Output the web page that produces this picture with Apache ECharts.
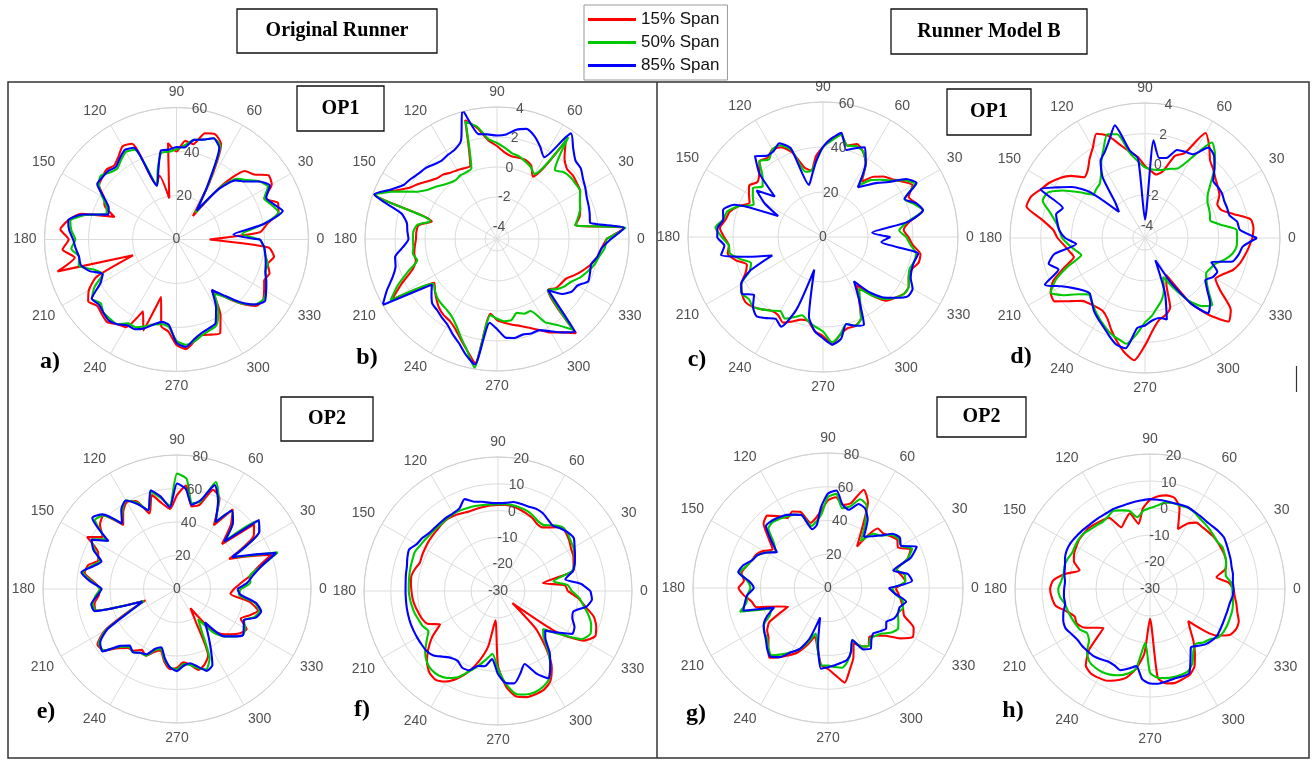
<!DOCTYPE html>
<html>
<head>
<meta charset="utf-8">
<script src="https://cdn.jsdelivr.net/npm/echarts@6/dist/echarts.min.js"></script>
<style>
  html, body { margin: 0; padding: 0; background: #fff; }
  #chart { width: 1312px; height: 761px; }
</style>
</head>
<body>
<div id="chart"></div>
<script>
// Polar angle grid (degrees) shared by every trace
const ANGLES = [
  0, 5, 10, 15, 20, 25, 30, 35, 40, 45, 50, 55,
  60, 65, 70, 75, 80, 85, 90, 95, 100, 105, 110, 115,
  120, 125, 130, 135, 140, 145, 150, 155, 160, 165, 170, 175,
  180, 185, 190, 195, 200, 205, 210, 215, 220, 225, 230, 235,
  240, 245, 250, 255, 260, 265, 270, 275, 280, 285, 290, 295,
  300, 305, 310, 315, 320, 325, 330, 335, 340, 345, 350, 355
];

const SPAN_NAMES = ['15% Span', '50% Span', '85% Span'];

// a) Original Runner, OP1 (0..60)
const aRed = [
  15, 38, 42, 48, 49, 44, 50, 51, 46, 44, 32, 13,
  30, 48, 51, 50, 44, 45, 40, 44, 19, 30, 27, 48,
  49, 46, 44, 45, 44, 43, 38, 36, 30, 45, 50, 53,
  49, 52, 47, 56, 21, 40, 46, 49, 47, 48, 49, 47,
  46, 36, 44, 27, 40, 42, 48, 50, 47, 45, 46, 47,
  40, 28, 34, 41, 47, 48, 46, 44, 45, 43, 45, 42
];
const aGreen = [
  38, 30, 40, 48, 46, 44, 48, 46, 42, 39, 31, 15,
  29, 47, 49, 47, 46, 43, 41, 40, 40, 33, 26, 45,
  46, 44, 42, 43, 45, 43, 39, 35, 34, 43, 49, 48,
  46, 48, 45, 46, 40, 37, 43, 47, 45, 47, 47, 47,
  44, 44, 42, 40, 39, 40, 46, 48, 47, 45, 44, 43,
  38, 30, 34, 41, 46, 48, 47, 45, 43, 43, 41, 40
];
const aBlue = [
  38, 26, 40, 50, 47, 45, 49, 46, 41, 38, 30, 16,
  28, 46, 49, 47, 46, 42, 42, 41, 41, 32, 26, 46,
  47, 45, 43, 44, 44, 44, 38, 34, 33, 44, 50, 49,
  47, 46, 45, 45, 42, 37, 40, 47, 46, 47, 48, 47,
  45, 45, 43, 40, 38, 39, 47, 49, 46, 44, 43, 42,
  36, 28, 33, 40, 46, 49, 47, 45, 43, 42, 41, 40
];

// b) Original Runner, OP1 (-4..4)
const bRed = [
  2.5, 3.7, 0.5, 0.9, 1.1, 1.3, 1.6, 1.7, 1.8, 1.8, 2.2, 3.2,
  0.0, 0.6, 0.8, 0.8, 0.8, 1.0, 1.4, 1.8, 2.7, 3.4, 0.4, 0.4,
  0.5, 0.6, 0.8, 0.9, 1.2, 1.6, 2.0, 2.8, 3.9, -0.3, 0.5, 0.6,
  0.6, 0.7, 0.8, 0.8, 1.2, 2.2, 3.3, 0.3, 0.6, 0.9, 1.2, 1.4,
  1.5, 1.8, 2.3, 2.9, 3.6, 0.2, 0.6, 0.8, 1.0, 1.2, 1.5, 1.9,
  2.4, 2.8, 3.4, 0.0, 0.3, 0.4, 0.5, 0.9, 1.3, 1.7, 2.0, 2.2
];
const bGreen = [
  2.5, 3.8, 0.5, 0.8, 1.1, 1.3, 1.6, 1.6, 1.6, 1.5, 1.2, 3.5,
  0.2, 0.5, 0.7, 0.9, 1.0, 1.3, 1.6, 1.9, 2.8, 3.3, 0.2, 0.1,
  0.1, 0.0, 0.1, 0.3, 0.6, 0.9, 1.5, 2.7, 3.8, -0.2, 0.6, 0.8,
  0.8, 0.8, 0.9, 0.7, 1.5, 2.5, 3.4, 0.4, 0.6, 0.8, 0.9, 1.0,
  1.2, 1.6, 2.2, 2.9, 3.9, 0.3, 0.5, 0.7, 0.7, 0.3, 0.5, 0.5,
  1.6, 2.2, 3.1, 0.0, 0.4, 0.7, 0.9, 1.3, 1.6, 1.9, 2.1, 2.4
];
const bBlue = [
  2.8, 3.7, 1.5, 1.6, 1.7, 1.8, 2.0, 2.2, 2.5, 2.6, 3.1, 3.8,
  1.5, 2.0, 2.5, 2.8, 2.6, 2.2, 2.1, 2.2, 2.3, 4.1, 2.2, 1.8,
  1.7, 1.6, 1.7, 1.9, 2.0, 2.2, 2.4, 3.0, 3.9, 1.8, 1.3, 1.2,
  1.1, 1.5, 2.1, 2.2, 2.6, 3.3, 4.0, 0.5, 0.9, 1.3, 1.4, 1.6,
  1.8, 2.2, 2.6, 3.2, 3.7, 0.8, 1.2, 1.8, 1.9, 1.8, 1.9, 1.9,
  2.3, 2.8, 3.3, 0.0, 0.9, 1.3, 1.4, 1.9, 1.8, 1.7, 2.0, 2.2
];

// c) Runner Model B, OP1 (0..60)
const cRed = [
  38, 36, 39, 46, 44, 42, 46, 43, 40, 38, 35, 30,
  38, 42, 44, 42, 46, 44, 40, 36, 30, 32, 40, 44,
  45, 43, 44, 40, 38, 40, 38, 36, 40, 43, 44, 46,
  44, 42, 43, 40, 36, 38, 42, 44, 45, 44, 42, 40,
  40, 42, 40, 38, 38, 42, 44, 48, 44, 42, 42, 40,
  32, 26, 34, 40, 42, 44, 44, 42, 42, 44, 44, 40
];
const cGreen = [
  37, 34, 38, 46, 43, 40, 47, 44, 39, 36, 33, 28,
  38, 42, 43, 42, 46, 43, 40, 34, 30, 30, 41, 45,
  45, 42, 44, 38, 35, 38, 36, 34, 40, 44, 45, 48,
  45, 42, 42, 38, 34, 36, 42, 44, 43, 44, 42, 40,
  38, 40, 38, 36, 38, 40, 42, 47, 44, 40, 42, 40,
  33, 28, 34, 39, 42, 44, 44, 42, 41, 42, 42, 39
];
const cBlue = [
  30, 22, 38, 46, 44, 40, 48, 45, 38, 34, 30, 27,
  38, 44, 42, 40, 47, 44, 40, 34, 28, 24, 42, 46,
  44, 44, 47, 40, 28, 36, 30, 22, 42, 46, 45, 47,
  47, 44, 46, 34, 24, 36, 42, 44, 40, 44, 46, 44,
  42, 44, 34, 15, 36, 42, 45, 48, 46, 40, 42, 43,
  32, 24, 32, 38, 42, 46, 46, 43, 42, 42, 43, 26
];

// d) Runner Model B, OP1 (-4..4)
const dRed = [
  2.2, 2.3, 2.2, 1.2, 0.5, 0.4, 0.8, 1.0, 1.2, 1.5, 1.8, 2.5,
  3.1, 1.3, 0.9, -0.3, -0.6, -0.4, -0.1, 0.5, 0.9, 1.5, 2.3, 2.7,
  2.0, 1.5, 1.0, 0.8, 1.5, 2.0, 2.4, 2.7, 3.1, 3.2, 2.0, 1.2,
  0.9, 0.5, 0.2, 0.0, 0.8, 1.8, 2.3, 2.4, 1.6, 1.0, 0.8, 0.7,
  0.7, 1.0, 1.6, 2.2, 2.8, 3.2, 2.2, 1.2, 0.6, 0.4, 0.0, -1.5,
  -2.0, 0.4, 1.8, 2.9, 2.5, 1.2, 0.5, 0.8, 1.3, 1.6, 1.8, 2.0
];
const dGreen = [
  1.2, 1.2, 0.2, -0.4, -0.3, -0.2, -0.1, 0.2, 0.8, 1.6, 2.3, 2.8,
  1.2, 0.2, 0.0, -0.2, -0.3, -0.3, -0.2, 0.2, 0.8, 2.2, 2.4, 1.6,
  0.9, 0.2, -0.2, -0.3, -0.4, 0.4, 1.4, 2.2, 2.3, 1.6, 1.1, 0.8,
  0.6, 0.2, -0.2, -0.5, 0.5, 1.6, 2.3, 1.7, 0.9, 0.4, 0.6, 0.9,
  1.2, 1.5, 1.8, 2.0, 2.2, 1.5, 0.7, 0.3, -0.2, -0.6, -1.2, -2.0,
  -1.0, 0.2, 1.0, 1.4, 0.6, 0.1, -0.2, -0.1, 0.1, 0.6, 1.0, 1.2
];
const dBlue = [
  2.5, 1.4, 1.3, 0.9, 0.9, 0.9, 1.0, 1.0, 1.0, 1.6, 2.2, 2.4,
  1.5, 1.4, 1.3, 0.6, 0.5, 1.6, -3.6, 0.4, 1.0, 2.8, 2.0, 1.4,
  1.0, 0.0, -1.8, -2.4, -0.2, 1.0, 1.8, 2.7, 0.9, 1.2, 1.0, 0.8,
  0.4, -0.3, 1.2, 1.7, 1.2, 2.4, 1.5, 0.9, 0.5, 0.3, 0.6, 1.0,
  1.3, 1.6, 2.0, 2.4, 2.5, 1.1, 0.9, 0.6, 0.5, 0.7, -1.0, -3.2,
  -1.5, 0.4, 1.6, 1.2, 0.5, 0.0, 0.3, 0.4, -0.2, 1.1, 1.4, 1.6
];

// e) Original Runner, OP2 (0..80)
const eRed = [
  34, 38, 44, 50, 60, 46, 36, 56, 60, 38, 50, 58,
  44, 60, 63, 52, 50, 62, 56, 48, 52, 58, 48, 58,
  60, 56, 50, 62, 60, 54, 62, 52, 50, 55, 56, 50,
  46, 47, 50, 50, 20, 32, 50, 58, 57, 50, 46, 45,
  42, 44, 40, 38, 44, 48, 47, 44, 46, 50, 48, 44,
  22, 14, 32, 38, 42, 46, 48, 42, 46, 50, 44, 32
];
const eGreen = [
  38, 44, 44, 52, 64, 47, 38, 60, 63, 40, 52, 57,
  46, 59, 68, 54, 52, 66, 69, 50, 55, 60, 50, 57,
  61, 57, 51, 62, 64, 52, 59, 54, 49, 53, 57, 51,
  46, 49, 51, 50, 21, 31, 49, 57, 57, 49, 45, 46,
  44, 44, 39, 37, 43, 47, 48, 45, 46, 49, 51, 46,
  30, 22, 34, 40, 44, 48, 47, 44, 49, 51, 47, 37
];
const eBlue = [
  36, 42, 46, 52, 63, 48, 38, 60, 64, 40, 52, 57,
  46, 58, 66, 55, 51, 60, 63, 49, 56, 61, 50, 56,
  61, 58, 51, 63, 66, 50, 59, 55, 48, 52, 58, 52,
  45, 48, 52, 51, 22, 30, 48, 56, 58, 48, 44, 46,
  44, 43, 38, 36, 42, 47, 49, 46, 45, 48, 52, 50,
  40, 32, 26, 40, 44, 48, 46, 44, 50, 52, 48, 38
];

// f) Original Runner, OP2 (-30..20)
const fRed = [
  -4.0, -5.0, -13.0, -1.0, 0.0, 1.0, 1.5, 2.5, 3.3, 3.7, 1.0, -1.0,
  -1.0, 0.2, 0.8, 1.5, 2.0, 2.2, 2.1, 2.0, 1.8, 1.7, 1.6, 2.0,
  2.5, 2.8, 2.6, 2.2, 2.0, 1.8, 1.5, 1.3, 1.0, 2.0, 2.8, 2.6,
  2.3, 2.0, 1.5, 0.8, 0.2, -1.0, -5.0, 0.0, 4.0, 7.5, 9.8, 10.5,
  9.0, 6.0, 2.0, -3.0, -9.0, -19.0, -2.0, 6.0, 10.0, 11.0, 11.0, 10.6,
  9.0, 5.0, -2.0, -10.0, -23.0, -3.0, 7.0, 10.0, 9.0, 7.0, 3.0, 0.0
];
const fGreen = [
  -2.5, -4.0, -9.0, -1.5, 0.5, 1.5, 2.5, 3.0, 3.8, 3.8, 2.0, 0.0,
  0.0, 1.0, 1.8, 2.2, 2.5, 2.5, 2.4, 2.4, 2.6, 2.8, 3.0, 3.2,
  3.2, 3.0, 2.8, 2.8, 3.0, 3.3, 3.7, 4.3, 4.0, 3.8, 3.6, 3.4,
  3.3, 3.0, 2.6, 2.2, 1.5, 1.0, 0.0, 2.5, 5.5, 7.5, 8.5, 8.5,
  7.5, 5.5, 2.0, -1.0, -4.0, -6.5, -1.0, 5.0, 9.0, 10.0, 10.2, 9.5,
  8.0, 4.0, -1.0, -6.0, -8.0, -2.0, 6.0, 8.0, 7.0, 5.0, 2.5, 0.5
];
const fBlue = [
  4.5, 1.0, -4.5, -1.0, 0.5, 1.7, 3.0, 4.5, 4.0, 3.0, 1.8, 2.5,
  3.5, 3.8, 3.5, 3.6, 3.7, 3.0, 2.8, 3.0, 3.8, 4.5, 6.5, 4.0,
  3.5, 3.5, 3.4, 3.4, 3.6, 4.5, 5.0, 6.6, 6.0, 5.2, 4.9, 4.6,
  4.5, 4.5, 4.6, 4.7, 4.8, 4.8, 4.8, 4.8, 4.8, 4.0, 2.0, 0.5,
  0.1, 1.6, 1.5, -1.0, -1.5, -4.5, 1.0, 4.5, 5.0, 2.0, -1.0, 4.0,
  7.6, 4.0, 0.0, -5.0, -7.0, -3.0, 2.0, 1.5, -0.5, -0.8, 3.5, 5.2
];

// g) Runner Model B, OP2 (0..80)
const gRed = [
  40, 46, 44, 42, 50, 54, 48, 50, 48, 46, 46, 30,
  40, 56, 62, 52, 50, 54, 52, 46, 42, 40, 48, 50,
  48, 52, 56, 54, 46, 40, 44, 47, 48, 50, 52, 50,
  53, 50, 46, 44, 32, 26, 40, 44, 46, 50, 54, 50,
  46, 42, 36, 30, 36, 46, 48, 52, 57, 50, 44, 36,
  40, 42, 38, 40, 44, 52, 58, 56, 48, 46, 44, 42
];
const gGreen = [
  38, 46, 46, 42, 50, 55, 50, 51, 49, 44, 42, 34,
  44, 54, 56, 50, 48, 56, 54, 44, 40, 38, 46, 48,
  49, 50, 51, 50, 42, 38, 42, 46, 48, 50, 53, 48,
  46, 48, 49, 54, 36, 38, 44, 46, 47, 50, 52, 48,
  44, 40, 34, 28, 36, 46, 46, 47, 48, 45, 40, 34,
  40, 42, 39, 40, 42, 46, 48, 46, 44, 46, 45, 40
];
const gBlue = [
  36, 50, 48, 40, 52, 58, 50, 52, 50, 44, 40, 37,
  47, 52, 53, 48, 50, 58, 56, 48, 38, 36, 46, 48,
  50, 51, 52, 52, 44, 37, 42, 46, 48, 52, 54, 47,
  44, 48, 50, 52, 34, 40, 44, 46, 48, 51, 53, 50,
  44, 40, 32, 18, 34, 48, 47, 46, 45, 44, 40, 34,
  42, 44, 40, 38, 40, 42, 40, 43, 44, 44, 47, 40
];

// h) Runner Model B, OP2 (-30..20)
const hRed = [
  1.0, -1.0, -5.0, -1.0, 0.0, 0.4, 0.4, 0.5, 0.5, 0.2, 0.0, 0.0,
  -2.0, -5.5, 2.0, 5.0, 5.2, 4.5, 3.0, 0.0, -5.5, -1.0, -3.0, -4.8,
  0.5, 1.0, 1.5, 2.0, 2.0, 2.0, 1.5, 1.0, 0.0, -3.0, 2.0, 6.0,
  7.0, 6.5, 5.5, 2.0, -0.3, 0.0, -1.5, -5.0, -7.5, 2.0, 7.0, 8.2,
  8.0, 7.5, 6.0, 4.0, 0.0, -6.0, -19.0, 3.0, 5.5, 6.0, 5.5, 5.0,
  3.0, -1.0, -5.0, -9.0, -11.5, 0.0, 4.0, 5.2, 5.0, 3.5, 2.5, 1.5
];
const hGreen = [
  0.5, 0.0, -1.5, -1.0, 0.0, 0.5, 1.0, 0.5, 0.8, 1.2, 1.6, 2.0,
  2.8, 3.2, 2.8, 3.0, 2.5, 1.0, 0.0, -1.0, -3.0, 0.0, 1.0, 2.0,
  1.0, 0.5, 0.8, 1.2, 2.0, 2.2, 2.0, 1.8, 2.5, 2.8, 2.5, 3.0,
  4.0, 3.5, 2.0, 1.5, 1.0, 0.5, 0.0, -1.5, -0.5, 3.0, 5.0, 5.5,
  5.5, 5.0, 4.0, 2.5, 0.0, -10.0, 1.0, 3.0, 3.5, 3.8, 3.8, 3.5,
  1.5, -2.0, -3.5, -2.0, -1.0, 1.0, 1.5, 1.6, 1.5, 1.5, 1.2, 0.8
];
const hBlue = [
  1.0, 0.8, 1.2, 1.3, 1.8, 2.2, 2.8, 3.4, 3.2, 2.8, 2.6, 2.8,
  3.0, 3.4, 3.2, 3.0, 3.1, 3.2, 3.3, 3.0, 2.8, 2.6, 2.5, 2.6,
  2.4, 2.5, 2.6, 2.8, 3.2, 3.6, 4.0, 4.0, 3.5, 2.6, 2.2, 1.6,
  1.8, 2.0, 1.9, 3.2, 4.2, 4.5, 3.5, 2.8, 2.8, 2.6, 2.5, 1.8,
  1.0, 1.2, 2.0, 0.5, -1.0, 3.5, 5.0, 5.2, 4.8, 4.4, 4.5, 4.4,
  0.0, -3.6, -2.5, -1.0, -0.2, 0.3, 0.0, -0.2, -0.3, -0.2, 0.0, 0.7
];

// Radial tick values for each panel type
const TICKS_ABS = [0, 20, 40, 60];
const TICKS_SMALL = [-4, -2, 0, 2, 4];
const TICKS_OP2 = [0, 20, 40, 60, 80];
const TICKS_DIFF = [-30, -20, -10, 0, 10, 20];

// Panel layout: centre, radius, radial range and corner letter
const PANELS = [
  { cx: 176.5, cy: 239.5, R: 132, min: 0,    max: 60, ticks: TICKS_ABS,   letter: 'a)', lx: 50,   ly: 362, series: [aRed, aGreen, aBlue] },
  { cx: 497,   cy: 239,   R: 132, min: -4.8, max: 4,  ticks: TICKS_SMALL, letter: 'b)', lx: 367,  ly: 358, series: [bRed, bGreen, bBlue] },
  { cx: 823,   cy: 237,   R: 135, min: 0,    max: 60, ticks: TICKS_ABS,   letter: 'c)', lx: 697,  ly: 360, series: [cRed, cGreen, cBlue] },
  { cx: 1145,  cy: 238,   R: 135, min: -4.8, max: 4,  ticks: TICKS_SMALL, letter: 'd)', lx: 1021, ly: 357, series: [dRed, dGreen, dBlue] },
  { cx: 177,   cy: 589,   R: 134, min: 0,    max: 80, ticks: TICKS_OP2,   letter: 'e)', lx: 46,   ly: 712, series: [eRed, eGreen, eBlue] },
  { cx: 498,   cy: 591,   R: 134, min: -30,  max: 20, ticks: TICKS_DIFF,  letter: 'f)', lx: 362,  ly: 710, series: [fRed, fGreen, fBlue] },
  { cx: 828,   cy: 588,   R: 135, min: 0,    max: 80, ticks: TICKS_OP2,   letter: 'g)', lx: 696,  ly: 714, series: [gRed, gGreen, gBlue] },
  { cx: 1150,  cy: 589,   R: 135, min: -30,  max: 20, ticks: TICKS_DIFF,  letter: 'h)', lx: 1013, ly: 711, series: [hRed, hGreen, hBlue] }
];

const COLORS = ['#ff0000', '#00c800', '#0000ff'];
const GRID = '#dcdcdc';
const LABEL = '#505050';
const SANS = '"Liberation Sans", Arial, sans-serif';
const SERIF = '"Liberation Serif", "Times New Roman", serif';

const polar = [], angleAxis = [], radiusAxis = [], series = [];

PANELS.forEach(p => {
  // polar holding the grid, the angle labels and the traces
  const dataIdx = polar.length;
  polar.push({ center: [p.cx, p.cy], radius: p.R });
  angleAxis.push({
    polarIndex: dataIdx, type: 'value', min: 0, max: 360, interval: 30,
    startAngle: 0, clockwise: false,
    axisLine: { show: true, lineStyle: { color: '#cfcfcf', width: 1 } },
    axisTick: { show: false },
    axisLabel: {
      margin: 8, color: LABEL, fontSize: 14, fontFamily: SANS,
      formatter: v => (v >= 360 ? '' : String(v))
    },
    splitLine: { show: true, lineStyle: { color: GRID, width: 1 } }
  });
  radiusAxis.push({
    polarIndex: dataIdx, type: 'value', min: p.min, max: p.max,
    axisLine: { show: false },
    axisTick: { show: false, customValues: p.ticks },
    axisLabel: { show: false, customValues: p.ticks },
    splitLine: { show: true, lineStyle: { color: GRID, width: 1 } }
  });

  // companion polar whose radius axis sits along 80 degrees for the r labels
  const lblIdx = polar.length;
  polar.push({ center: [p.cx, p.cy], radius: p.R });
  angleAxis.push({
    polarIndex: lblIdx, type: 'value', min: 0, max: 360,
    startAngle: 80, clockwise: false, show: false
  });
  radiusAxis.push({
    polarIndex: lblIdx, type: 'value', min: p.min, max: p.max,
    axisLine: { show: false },
    axisTick: { show: false, customValues: p.ticks },
    splitLine: { show: false },
    axisLabel: {
      customValues: p.ticks, showMinLabel: true, showMaxLabel: true,
      margin: 0, align: 'center', verticalAlign: 'middle',
      color: LABEL, fontSize: 14, fontFamily: SANS
    },
    z: 5
  });

  p.series.forEach((vals, k) => {
    const pts = ANGLES.map((a, i) => [vals[i], a]);
    pts.push([vals[0], 360]);
    series.push({
      type: 'line', name: SPAN_NAMES[k], coordinateSystem: 'polar', polarIndex: dataIdx,
      data: pts, symbol: 'none', showSymbol: false, smooth: 0.2,
      lineStyle: { width: 2.1, color: COLORS[k] },
      itemStyle: { color: COLORS[k] },
      silent: true, z: 2 + k
    });
  });
});

// boxes, frame and panel letters
function labelBox(x, y, w, h, text, size) {
  return [
    { type: 'rect', shape: { x: x, y: y, width: w, height: h },
      style: { fill: '#fff', stroke: '#111', lineWidth: 1.3 }, z: 10 },
    { type: 'text', x: x + w / 2, y: y + h / 2,
      style: { text: text, font: 'bold ' + size + 'px ' + SERIF, fill: '#000',
               align: 'center', verticalAlign: 'middle',
               textAlign: 'center', textVerticalAlign: 'middle' }, z: 11 }
  ];
}

const graphic = [
  { type: 'rect', shape: { x: 8, y: 82, width: 1301, height: 676 },
    style: { fill: 'none', stroke: '#333', lineWidth: 1.5 }, z: 1 },
  { type: 'line', shape: { x1: 657, y1: 82, x2: 657, y2: 758 },
    style: { stroke: '#333', lineWidth: 1.5 }, z: 1 },
  { type: 'line', shape: { x1: 1296.5, y1: 366, x2: 1296.5, y2: 392 },
    style: { stroke: '#333', lineWidth: 1.2 }, z: 1 }
]
  .concat(labelBox(237, 9, 200, 44, 'Original Runner', 20))
  .concat(labelBox(891, 9, 196, 45, 'Runner Model B', 20))
  .concat(labelBox(297, 86, 87, 45, 'OP1', 20))
  .concat(labelBox(947, 89, 84, 46, 'OP1', 20))
  .concat(labelBox(281, 397, 92, 44, 'OP2', 20))
  .concat(labelBox(937, 397, 89, 40, 'OP2', 20));

PANELS.forEach(p => {
  graphic.push({
    type: 'text', x: p.lx, y: p.ly,
    style: { text: p.letter, font: 'bold 24px ' + SERIF, fill: '#000',
             align: 'center', verticalAlign: 'middle',
             textAlign: 'center', textVerticalAlign: 'middle' },
    z: 11
  });
});

const chart = echarts.init(document.getElementById('chart'), null, { renderer: 'canvas' });
chart.setOption({
  animation: false,
  backgroundColor: '#fff',
  legend: {
    data: SPAN_NAMES, orient: 'vertical', left: 584, top: 5,
    icon: 'rect', itemWidth: 48, itemHeight: 3, itemGap: 6,
    selectedMode: false,
    borderColor: '#999', borderWidth: 1, padding: [6, 8, 6, 4],
    backgroundColor: '#fff',
    textStyle: { fontSize: 17, color: '#111', fontFamily: SANS }
  },
  polar: polar,
  angleAxis: angleAxis,
  radiusAxis: radiusAxis,
  series: series,
  graphic: graphic
});
</script>
</body>
</html>
